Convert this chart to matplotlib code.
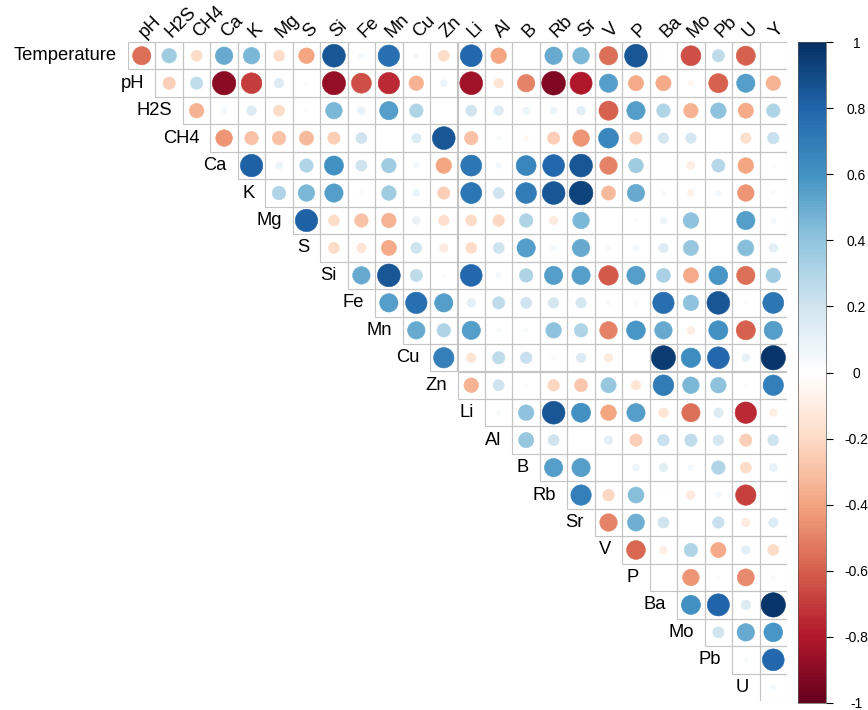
import numpy as np
import matplotlib
matplotlib.use("Agg")
import matplotlib.pyplot as plt
from matplotlib.colors import LinearSegmentedColormap, Normalize
from matplotlib.patches import Circle, Rectangle
from matplotlib.cm import ScalarMappable

plt.rcParams['font.family'] = ['Liberation Sans', 'DejaVu Sans']

row_names = ["Temperature", "pH", "H2S", "CH4", "Ca", "K", "Mg", "S", "Si", "Fe",
             "Mn", "Cu", "Zn", "Li", "Al", "B", "Rb", "Sr", "V", "P", "Ba", "Mo",
             "Pb", "U"]
col_names = ["pH", "H2S", "CH4", "Ca", "K", "Mg", "S", "Si", "Fe", "Mn", "Cu",
             "Zn", "Li", "Al", "B", "Rb", "Sr", "V", "P", "Ba", "Mo", "Pb", "U", "Y"]

# correlations, each row starts on the diagonal
r_temperature = [-0.55, 0.35, -0.2, 0.5, 0.45, -0.2, -0.4, 0.85, 0.05, 0.75, 0.05, -0.2,
                 0.78, -0.4, 0.0, 0.5, 0.45, -0.55, 0.85, 0.02, -0.65, 0.25, -0.6, 0.0]
r_ph = [-0.25, 0.25, -0.9, -0.7, 0.15, 0.02, -0.88, -0.65, -0.75, -0.35, 0.08,
        -0.85, -0.15, -0.5, -0.92, -0.8, 0.55, -0.38, -0.38, -0.05, -0.6, 0.55, -0.35]
r_h2s = [-0.35, 0.05, 0.15, -0.2, 0.02, 0.45, 0.1, 0.55, 0.3, 0.0,
         0.2, 0.15, 0.08, 0.08, 0.12, -0.6, 0.55, 0.3, -0.35, 0.4, -0.38, 0.3]
r_ch4 = [-0.45, -0.3, -0.3, -0.33, -0.25, 0.2, 0.0, 0.15, 0.85,
         -0.3, 0.03, -0.05, -0.25, -0.45, 0.65, -0.25, 0.18, 0.18, 0.0, -0.18, 0.22]
r_ca = [0.82, 0.08, 0.3, 0.6, 0.2, 0.35, 0.05, -0.4,
        0.72, 0.05, 0.65, 0.78, 0.85, -0.5, 0.35, 0.0, -0.1, 0.28, -0.4, 0.02]
r_k = [0.3, 0.45, 0.55, 0.03, 0.35, 0.08, -0.25,
       0.72, 0.2, 0.7, 0.85, 0.92, -0.33, 0.5, 0.03, -0.08, 0.05, -0.45, 0.03]
r_mg = [0.82, -0.2, -0.3, -0.35, 0.1, -0.18,
        -0.2, -0.22, 0.3, -0.12, 0.45, 0.0, 0.02, 0.08, 0.4, 0.0, 0.55, 0.05]
r_s = [-0.2, -0.15, -0.38, 0.2, -0.12,
       -0.2, 0.2, 0.55, 0.05, 0.5, 0.03, 0.05, 0.15, 0.38, 0.0, 0.42, 0.12]
r_si = [0.5, 0.85, 0.25, 0.02,
        0.78, 0.05, 0.3, 0.55, 0.55, -0.62, 0.55, 0.32, -0.38, 0.58, -0.55, 0.35]
r_fe = [0.55, 0.75, 0.55,
        0.12, 0.25, 0.2, 0.18, 0.18, 0.03, 0.03, 0.75, 0.4, 0.85, 0.02, 0.72]
r_mn = [0.5, 0.3,
        0.55, 0.03, 0.03, 0.4, 0.3, -0.5, 0.58, 0.5, -0.1, 0.6, -0.6, 0.55]
r_cu = [0.68, -0.15, 0.25, 0.22, 0.03, 0.15, -0.12, 0.0, 0.95, 0.62, 0.78, 0.1, 0.97]
r_zn = [-0.35, 0.2, 0.02, -0.22, -0.28, 0.38, -0.15, 0.7, 0.45, 0.4, 0.02, 0.68]
r_li = [0.03, 0.4, 0.85, 0.6, -0.4, 0.55, -0.15, -0.55, 0.15, -0.75, -0.1]
r_al = [0.38, 0.2, 0.0, 0.12, -0.25, 0.22, 0.25, 0.18, -0.25, 0.2]
r_b = [0.55, 0.55, 0.0, 0.08, 0.12, 0.05, 0.3, -0.2, 0.1]
r_rb = [0.68, -0.22, 0.42, 0.02, -0.12, 0.05, -0.68, 0.0]
r_sr = [-0.5, 0.48, 0.2, 0.0, 0.22, -0.12, 0.15]
r_v = [-0.58, -0.1, 0.3, -0.38, 0.12, -0.2]
r_p = [0.0, -0.45, 0.02, -0.48, 0.03]
r_ba = [0.6, 0.8, 0.15, 0.97]
r_mo = [0.2, 0.5, 0.58]
r_pb = [0.03, 0.78]
r_u = [0.05]

rows = [r_temperature, r_ph, r_h2s, r_ch4, r_ca, r_k, r_mg, r_s, r_si, r_fe,
        r_mn, r_cu, r_zn, r_li, r_al, r_b, r_rb, r_sr, r_v, r_p, r_ba, r_mo,
        r_pb, r_u]

# corrplot's RdBu palette
cmap = LinearSegmentedColormap.from_list(
    "corr_rdbu", ["#67001F", "#B2182B", "#D6604D", "#F4A582", "#FDDBC7", "#FFFFFF",
                  "#D1E5F0", "#92C5DE", "#4393C3", "#2166AC", "#053061"], N=200)
norm = Normalize(-1, 1)

W, H = 868, 710
fig = plt.figure(figsize=(W / 100, H / 100), dpi=100)
ax = fig.add_axes([128 / W, 9 / H, 659 / W, 659 / H])
ax.set_xlim(0, 24)
ax.set_ylim(24, 0)
ax.axis("off")

for i, vals in enumerate(rows):
    for k, v in enumerate(vals):
        j = i + k
        ax.add_patch(Rectangle((j, i), 1, 1, fill=False, ec="#c4c4c4", lw=0.8))
        rad = 0.45 * np.sqrt(abs(v))
        if rad > 0:
            c = cmap(norm(v))
            ax.add_patch(Circle((j + 0.5, i + 0.5), rad, fc=c, ec=c, lw=0.4))
    ax.text(i - 0.4, i + 0.5, row_names[i], ha="right", va="center", fontsize=13.2)

for j, name in enumerate(col_names):
    ax.text(j + 0.6, -0.15, name, rotation=45, rotation_mode="anchor",
            ha="left", va="baseline", fontsize=13.2)

# colour legend
cax = fig.add_axes([798 / W, 7 / H, 28 / W, 661 / H])
sm = ScalarMappable(norm=norm, cmap=cmap)
cb = fig.colorbar(sm, cax=cax, ticks=np.linspace(-1, 1, 11))
cb.set_ticklabels(["-1", "-0.8", "-0.6", "-0.4", "-0.2", "0",
                   "0.2", "0.4", "0.6", "0.8", "1"])
cb.outline.set_linewidth(0.5)
cb.outline.set_edgecolor("#555555")
cax.tick_params(length=5, width=0.8, labelsize=10, pad=17)
for lbl in cax.get_yticklabels():
    lbl.set_ha("center")

fig.savefig("out.png", dpi=100)
